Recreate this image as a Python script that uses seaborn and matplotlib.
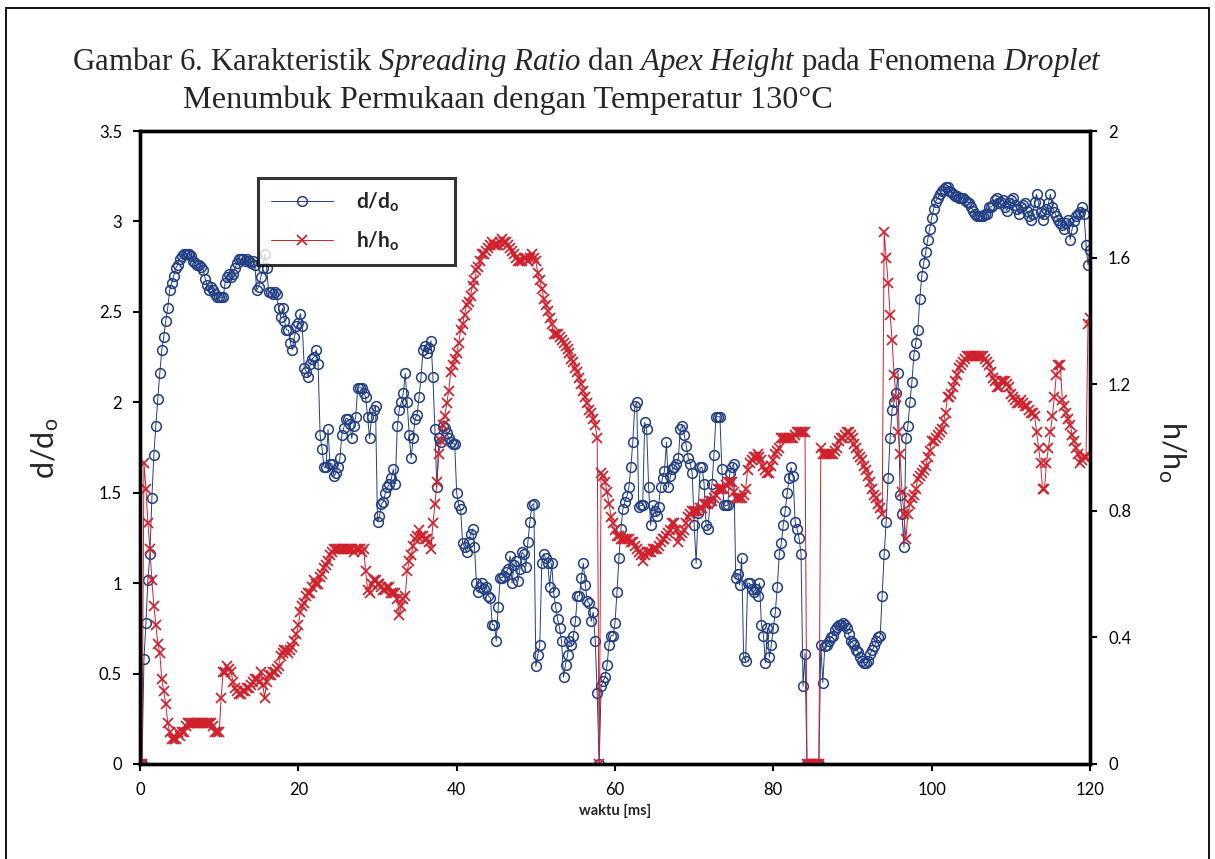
import numpy as np
import matplotlib
matplotlib.use("Agg")
import matplotlib.pyplot as plt
import seaborn as sns
from matplotlib.patches import Rectangle

# ---------------- data (sampled every 0.25 ms) ----------------
TIME_STEP_MS = 0.25

d_ratio = [
    0, 0, 0.58, 0.78, 1.02, 1.16, 1.47, 1.71,
    1.87, 2.02, 2.16, 2.29, 2.36, 2.45, 2.52, 2.62,
    2.66, 2.70, 2.74, 2.76, 2.79, 2.81, 2.82, 2.82,
    2.82, 2.82, 2.81, 2.78, 2.77, 2.76, 2.76, 2.75,
    2.73, 2.68, 2.65, 2.62, 2.64, 2.62, 2.60, 2.58,
    2.58, 2.58, 2.58, 2.66, 2.69, 2.71, 2.69, 2.71,
    2.74, 2.77, 2.79, 2.79, 2.79, 2.78, 2.79, 2.78,
    2.77, 2.78, 2.76, 2.62, 2.64, 2.69, 2.74, 2.82,
    2.74, 2.61, 2.61, 2.60, 2.61, 2.60, 2.52, 2.47,
    2.52, 2.45, 2.40, 2.40, 2.33, 2.29, 2.36, 2.42,
    2.44, 2.49, 2.42, 2.19, 2.17, 2.14, 2.21, 2.24,
    2.25, 2.29, 2.21, 1.82, 1.74, 1.64, 1.64, 1.85,
    1.66, 1.66, 1.59, 1.61, 1.64, 1.69, 1.82, 1.86,
    1.91, 1.91, 1.88, 1.80, 1.87, 1.92, 2.08, 2.08,
    2.08, 2.05, 2.03, 1.92, 1.80, 1.92, 1.96, 1.98,
    1.34, 1.37, 1.44, 1.45, 1.50, 1.53, 1.55, 1.58,
    1.63, 1.55, 1.87, 1.96, 2.00, 2.05, 2.16, 2.00,
    1.82, 1.69, 1.80, 1.91, 1.93, 2.03, 2.14, 2.29,
    2.31, 2.27, 2.30, 2.34, 2.14, 1.85, 1.53, 1.80,
    1.78, 1.87, 1.86, 1.83, 1.80, 1.78, 1.77, 1.77,
    1.50, 1.43, 1.41, 1.22, 1.20, 1.17, 1.23, 1.27,
    1.30, 1.20, 1.00, 0.95, 0.98, 1.00, 0.97, 0.98,
    0.93, 0.92, 0.77, 0.77, 0.68, 0.87, 1.03, 1.03,
    1.04, 1.06, 1.08, 1.15, 1.00, 1.10, 1.12, 1.01,
    1.08, 1.17, 1.16, 1.09, 1.23, 1.34, 1.43, 1.44,
    0.54, 0.60, 0.66, 1.11, 1.16, 1.14, 1.11, 0.98,
    1.11, 0.95, 0.87, 0.80, 0.75, 0.68, 0.48, 0.55,
    0.60, 0.68, 0.66, 0.71, 0.79, 0.93, 0.93, 1.03,
    1.11, 0.99, 0.90, 0.89, 0.79, 0.84, 0.68, 0.39,
    0, 0.43, 0.46, 0.48, 0.55, 0.66, 0.71, 0.71,
    0.78, 0.95, 1.14, 1.30, 1.41, 1.45, 1.48, 1.53,
    1.64, 1.78, 1.98, 2.00, 1.42, 1.43, 1.43, 1.89,
    1.85, 1.53, 1.32, 1.43, 1.40, 1.37, 1.42, 1.53,
    1.58, 1.62, 1.78, 1.53, 1.59, 1.63, 1.64, 1.66,
    1.69, 1.85, 1.87, 1.82, 1.76, 1.69, 1.66, 1.61,
    1.32, 1.11, 1.39, 1.64, 1.64, 1.55, 1.32, 1.30,
    1.45, 1.55, 1.71, 1.92, 1.92, 1.92, 1.63, 1.43,
    1.43, 1.43, 1.61, 1.64, 1.66, 1.03, 1.05, 0.99,
    1.14, 0.59, 0.57, 1.00, 1.00, 0.97, 0.95, 0.97,
    0.93, 1.00, 0.77, 0.71, 0.56, 0.75, 0.59, 0.66,
    0.75, 0.84, 0.98, 1.16, 1.22, 1.32, 1.40, 1.50,
    1.58, 1.64, 1.59, 1.34, 1.30, 1.25, 1.16, 0.43,
    0.61, 0, 0, 0, 0, 0, 0, 0,
    0.66, 0.45, 0.65, 0.66, 0.68, 0.70, 0.71, 0.74,
    0.76, 0.77, 0.77, 0.78, 0.77, 0.75, 0.72, 0.68,
    0.67, 0.66, 0.63, 0.62, 0.59, 0.57, 0.56, 0.56,
    0.57, 0.61, 0.63, 0.65, 0.68, 0.70, 0.71, 0.93,
    1.16, 1.34, 1.58, 1.80, 1.96, 2.00, 2.05, 2.16,
    1.49, 1.38, 1.20, 1.80, 1.87, 2.00, 2.11, 2.26,
    2.33, 2.40, 2.57, 2.70, 2.77, 2.83, 2.90, 2.96,
    3.02, 3.07, 3.11, 3.13, 3.15, 3.17, 3.18, 3.19,
    3.19, 3.17, 3.16, 3.15, 3.14, 3.14, 3.13, 3.13,
    3.13, 3.12, 3.11, 3.10, 3.08, 3.06, 3.04, 3.03,
    3.03, 3.03, 3.03, 3.04, 3.04, 3.08, 3.08, 3.09,
    3.12, 3.13, 3.10, 3.11, 3.12, 3.08, 3.06, 3.10,
    3.12, 3.13, 3.09, 3.07, 3.04, 3.08, 3.09, 3.10,
    3.06, 3.03, 3.01, 3.04, 3.11, 3.15, 3.10, 3.05,
    3.01, 3.04, 3.07, 3.10, 3.15, 3.08, 3.05, 3.03,
    3.01, 2.99, 2.98, 2.96, 2.99, 3.01, 2.90, 2.96,
    3.00, 3.03, 3.04, 3.05, 3.08, 3.04, 2.87, 2.76,
    2.84,
]

h_ratio = [
    0, 0, 0.95, 0.87, 0.76, 0.68, 0.58, 0.50,
    0.44, 0.38, 0.35, 0.27, 0.23, 0.19, 0.13, 0.10,
    0.08, 0.08, 0.08, 0.10, 0.09, 0.10, 0.10, 0.12,
    0.13, 0.13, 0.13, 0.13, 0.13, 0.13, 0.13, 0.13,
    0.13, 0.13, 0.13, 0.13, 0.13, 0.12, 0.10, 0.10,
    0.10, 0.21, 0.29, 0.29, 0.31, 0.30, 0.29, 0.26,
    0.24, 0.23, 0.22, 0.22, 0.23, 0.23, 0.24, 0.24,
    0.25, 0.26, 0.27, 0.27, 0.26, 0.29, 0.25, 0.21,
    0.26, 0.28, 0.28, 0.29, 0.29, 0.30, 0.31, 0.34,
    0.35, 0.36, 0.36, 0.35, 0.36, 0.37, 0.39, 0.41,
    0.44, 0.48, 0.50, 0.51, 0.53, 0.54, 0.54, 0.56,
    0.58, 0.57, 0.57, 0.59, 0.60, 0.62, 0.63, 0.64,
    0.66, 0.67, 0.68, 0.68, 0.68, 0.68, 0.68, 0.68,
    0.68, 0.68, 0.68, 0.68, 0.67, 0.68, 0.68, 0.68,
    0.67, 0.68, 0.61, 0.55, 0.54, 0.57, 0.58, 0.58,
    0.57, 0.57, 0.56, 0.55, 0.55, 0.56, 0.56, 0.54,
    0.54, 0.54, 0.52, 0.47, 0.50, 0.52, 0.53, 0.61,
    0.64, 0.66, 0.69, 0.71, 0.72, 0.74, 0.72, 0.72,
    0.71, 0.71, 0.70, 0.68, 0.76, 0.82, 0.89, 0.98,
    1.02, 1.07, 1.10, 1.14, 1.18, 1.24, 1.26, 1.28,
    1.30, 1.33, 1.37, 1.39, 1.42, 1.45, 1.46, 1.48,
    1.51, 1.53, 1.56, 1.57, 1.59, 1.61, 1.61, 1.62,
    1.63, 1.64, 1.65, 1.64, 1.64, 1.64, 1.65, 1.66,
    1.65, 1.65, 1.64, 1.63, 1.62, 1.61, 1.60, 1.59,
    1.59, 1.59, 1.60, 1.60, 1.59, 1.60, 1.61, 1.60,
    1.59, 1.55, 1.53, 1.50, 1.47, 1.45, 1.43, 1.41,
    1.39, 1.36, 1.36, 1.36, 1.35, 1.34, 1.33, 1.32,
    1.31, 1.30, 1.28, 1.27, 1.25, 1.24, 1.22, 1.20,
    1.18, 1.16, 1.14, 1.12, 1.11, 1.09, 1.07, 1.03,
    0, 0.92, 0.91, 0.89, 0.86, 0.82, 0.78, 0.76,
    0.74, 0.72, 0.72, 0.71, 0.71, 0.71, 0.71, 0.71,
    0.70, 0.70, 0.69, 0.68, 0.67, 0.66, 0.64, 0.66,
    0.67, 0.67, 0.67, 0.68, 0.68, 0.68, 0.69, 0.70,
    0.71, 0.71, 0.72, 0.73, 0.74, 0.76, 0.76, 0.74,
    0.70, 0.72, 0.73, 0.74, 0.76, 0.78, 0.79, 0.80,
    0.80, 0.80, 0.80, 0.81, 0.81, 0.82, 0.82, 0.82,
    0.83, 0.83, 0.84, 0.85, 0.87, 0.87, 0.87, 0.87,
    0.88, 0.89, 0.89, 0.89, 0.86, 0.84, 0.84, 0.84,
    0.84, 0.85, 0.87, 0.93, 0.95, 0.96, 0.97, 0.97,
    0.98, 0.97, 0.96, 0.94, 0.93, 0.92, 0.92, 0.94,
    0.96, 0.98, 0.99, 1.00, 1.03, 1.03, 1.03, 1.03,
    1.03, 1.03, 1.03, 1.04, 1.05, 1.05, 1.05, 1.05,
    1.05, 0, 0, 0, 0, 0, 0, 0,
    1.00, 0.98, 0.98, 0.98, 0.98, 0.98, 0.98, 0.99,
    1.00, 1.02, 1.03, 1.03, 1.04, 1.05, 1.05, 1.04,
    1.03, 1.01, 1.00, 0.98, 0.97, 0.96, 0.94, 0.93,
    0.91, 0.89, 0.87, 0.85, 0.84, 0.82, 0.81, 0.79,
    1.68, 1.60, 1.52, 1.42, 1.34, 1.23, 1.16, 1.05,
    0.98, 0.86, 0.79, 0.71, 0.79, 0.82, 0.84, 0.85,
    0.87, 0.90, 0.91, 0.92, 0.93, 0.94, 0.97, 0.99,
    1.02, 1.02, 1.03, 1.04, 1.05, 1.06, 1.08, 1.11,
    1.16, 1.16, 1.17, 1.19, 1.21, 1.23, 1.25, 1.26,
    1.27, 1.28, 1.29, 1.29, 1.29, 1.29, 1.29, 1.29,
    1.29, 1.29, 1.29, 1.28, 1.27, 1.26, 1.24, 1.22,
    1.21, 1.19, 1.19, 1.21, 1.21, 1.21, 1.20, 1.19,
    1.17, 1.16, 1.15, 1.14, 1.14, 1.15, 1.14, 1.13,
    1.13, 1.12, 1.11, 1.11, 1.10, 1.05, 1.00, 0.95,
    0.87, 0.87, 0.95, 1.00, 1.05, 1.10, 1.16, 1.23,
    1.26, 1.26, 1.15, 1.13, 1.11, 1.09, 1.07, 1.04,
    1.02, 1.00, 0.98, 0.95, 0.96, 0.97, 0.97, 1.39,
    1.41,
]

time_ms = np.round(np.arange(len(d_ratio)) * TIME_STEP_MS, 2)

x_ticks = [0, 20, 40, 60, 80, 100, 120]
left_ticks = [0, 0.5, 1, 1.5, 2, 2.5, 3, 3.5]
left_tick_labels = ["0", "0.5", "1", "1.5", "2", "2.5", "3", "3.5"]
right_ticks = [0, 0.4, 0.8, 1.2, 1.6, 2]
right_tick_labels = ["0", "0.4", "0.8", "1.2", "1.6", "2"]

series_labels = [r"$\mathbf{d/d_o}$", r"$\mathbf{h/h_o}$"]
title_line1 = (r"Gambar 6. Karakteristik $\mathit{Spreading\ Ratio}$ dan "
               r"$\mathit{Apex\ Height}$ pada Fenomena $\mathit{Droplet}$")
title_line2 = "Menumbuk Permukaan dengan Temperatur 130°C"

# ---------------- style ----------------
sns.set_theme(style="white")
plt.rcParams["font.family"] = ["Lato", "DejaVu Sans"]
plt.rcParams["mathtext.fontset"] = "custom"
plt.rcParams["mathtext.rm"] = "Liberation Serif"
plt.rcParams["mathtext.it"] = "Liberation Serif:italic"
plt.rcParams["mathtext.bf"] = "Lato:bold"
plt.rcParams["mathtext.sf"] = "Lato"

BLUE = "#223F84"
RED = "#D0202C"

fig = plt.figure(figsize=(12.15, 8.59), dpi=100)
ax = fig.add_axes([140 / 1215, 1 - 764 / 859, 950 / 1215, 633 / 859])
ax2 = ax.twinx()

sns.lineplot(x=time_ms, y=d_ratio, ax=ax, color=BLUE, marker="o",
             markersize=7, markerfacecolor="none", markeredgecolor=BLUE,
             markeredgewidth=1.1, linewidth=0.7, errorbar=None, legend=False)
sns.lineplot(x=time_ms, y=h_ratio, ax=ax2, color=RED, marker="x",
             markersize=7, markeredgecolor=RED, markeredgewidth=1.25,
             linewidth=0.7, errorbar=None, legend=False)

ax.set_xlim(0, 120)
ax.set_ylim(0, 3.5)
ax2.set_ylim(0, 2)
ax.set_xticks(x_ticks)
ax.set_xticklabels([str(v) for v in x_ticks])
ax.set_yticks(left_ticks)
ax.set_yticklabels(left_tick_labels)
ax2.set_yticks(right_ticks)
ax2.set_yticklabels(right_tick_labels)

for a in (ax, ax2):
    for s in a.spines.values():
        s.set_linewidth(2.4)
        s.set_color("black")
    a.grid(False)
    a.set_xlabel("")
    a.set_ylabel("")

ax.tick_params(axis="both", direction="out", length=5, width=1.5,
               labelsize=12, colors="black", pad=8,
               left=True, bottom=True)
ax2.tick_params(axis="y", direction="out", length=5, width=1.5,
                labelsize=12, colors="black", pad=8, right=True)

ax.set_xlabel("waktu [ms]", fontsize=10.5, fontweight="bold", labelpad=4)
fig.text(45 / 1215, 1 - 448 / 859, r"d/d$_\mathsf{o}$", fontsize=22,
         rotation=90, ha="center", va="center")
fig.text(1172 / 1215, 1 - 452 / 859, r"h/h$_\mathsf{o}$", fontsize=22,
         rotation=270, ha="center", va="center")

leg_w = 197 / 950
leg_h = 94 / 633
leg_top = (764 - 178) / 633
leg = ax2.legend([ax.lines[0], ax2.lines[0]], series_labels,
                 loc="upper left", mode="expand",
                 bbox_to_anchor=(118 / 950, leg_top - leg_h, leg_w, leg_h),
                 fontsize=15, frameon=True, fancybox=False,
                 handlelength=3.0, handletextpad=1.1, borderpad=0.6,
                 labelspacing=0.75, borderaxespad=0)
leg.get_frame().set_edgecolor("black")
leg.get_frame().set_linewidth(2.2)

fig.text(72 / 1215, 1 - 62 / 859, title_line1, fontsize=22.2,
         family="Liberation Serif", ha="left", va="center")
fig.text(183 / 1215, 1 - 100 / 859, title_line2, fontsize=23.2,
         family="Liberation Serif", ha="left", va="center")

fig.patches.append(Rectangle((6 / 1215, -0.02), 1203 / 1215, 1.02 - 8 / 859,
                             transform=fig.transFigure, fill=False,
                             edgecolor="black", linewidth=1.3))

fig.savefig("out.png", dpi=100)
